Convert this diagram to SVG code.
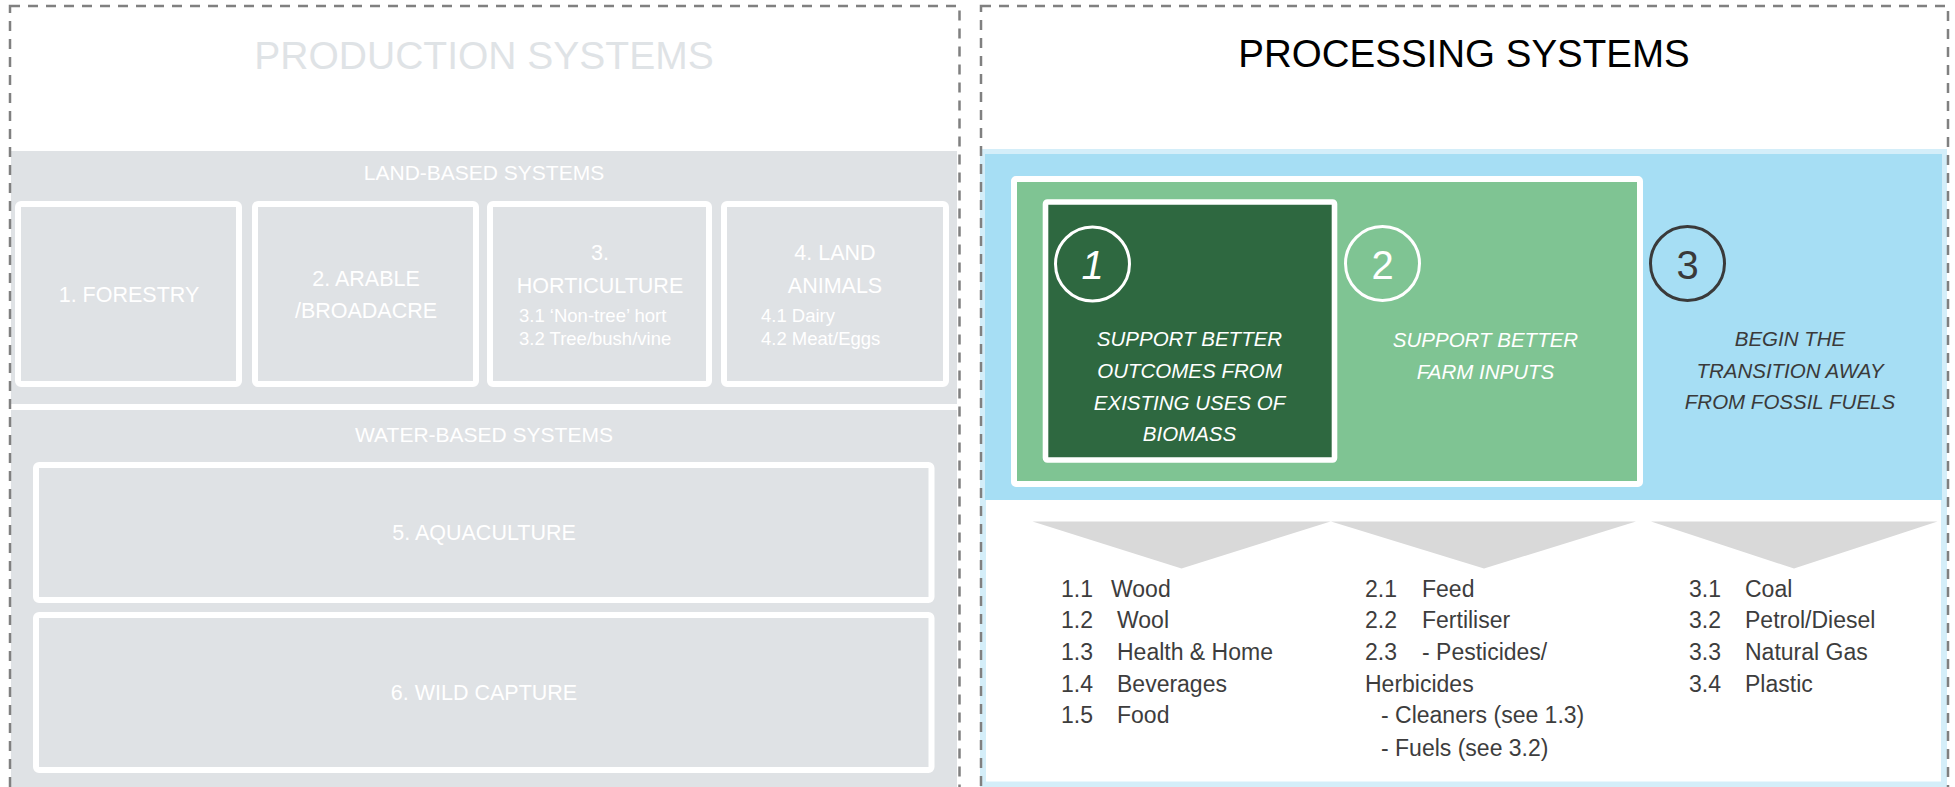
<svg xmlns="http://www.w3.org/2000/svg" width="1955" height="787" viewBox="0 0 1955 787">
<style>
text{font-family:"Liberation Sans",Arial,sans-serif}
.ptitle{font-size:39px;fill:#dfe3e6;text-anchor:middle}
.rtitle{font-size:38.5px;fill:#000;text-anchor:middle}
.sec{font-size:21px;fill:#fff;text-anchor:middle}
.lbl{font-size:21.5px;fill:#fff;text-anchor:middle}
.sub{font-size:18.5px;fill:#fff}
.pbox{fill:#dfe2e5;stroke:#fff;stroke-width:6}
.dash{fill:none;stroke:#808080;stroke-width:2.5;stroke-dasharray:10 8}
.goal{font-size:20.5px;font-style:italic;text-anchor:middle}
.num{font-size:40px;text-anchor:middle}
.li{font-size:23px;fill:#3d3d3d}
.tri{fill:#d9d9d9}
</style>
<rect width="1955" height="787" fill="#fff"/>

<g id="production-panel">
  <text class="ptitle" x="484" y="69">PRODUCTION SYSTEMS</text>
  <rect x="11" y="151" width="946" height="253" fill="#dfe2e5"/>
  <rect x="11" y="410" width="946" height="377" fill="#dfe2e5"/>
  <text class="sec" x="484" y="180">LAND-BASED SYSTEMS</text>
  <text class="sec" x="484" y="442">WATER-BASED SYSTEMS</text>
</g>

<g id="forestry">
  <rect class="pbox" x="18" y="204" width="221" height="180" rx="3"/>
  <text class="lbl" x="129" y="302">1. FORESTRY</text>
</g>
<g id="arable">
  <rect class="pbox" x="255" y="204" width="221" height="180" rx="3"/>
  <text class="lbl" x="366" y="286">2. ARABLE</text>
  <text class="lbl" x="366" y="318">/BROADACRE</text>
</g>
<g id="horticulture">
  <rect class="pbox" x="490" y="204" width="219" height="180" rx="3"/>
  <text class="lbl" x="600" y="260">3.</text>
  <text class="lbl" x="600" y="293">HORTICULTURE</text>
  <text class="sub" x="519" y="322">3.1 ‘Non-tree’ hort</text>
  <text class="sub" x="519" y="345">3.2 Tree/bush/vine</text>
</g>
<g id="land-animals">
  <rect class="pbox" x="724" y="204" width="222" height="180" rx="3"/>
  <text class="lbl" x="835" y="260">4. LAND</text>
  <text class="lbl" x="835" y="293">ANIMALS</text>
  <text class="sub" x="761" y="322">4.1 Dairy</text>
  <text class="sub" x="761" y="345">4.2 Meat/Eggs</text>
</g>
<g id="aquaculture">
  <rect class="pbox" x="36" y="465" width="895.5" height="135" rx="3"/>
  <text class="lbl" x="484" y="540">5. AQUACULTURE</text>
</g>
<g id="wild-capture">
  <rect class="pbox" x="36" y="615" width="895.5" height="155" rx="3"/>
  <text class="lbl" x="484" y="700">6. WILD CAPTURE</text>
</g>

<g id="processing-panel">
  <text class="rtitle" x="1464" y="67">PROCESSING SYSTEMS</text>
  <rect x="980" y="149" width="967" height="638" fill="#d4eef9"/>
  <rect x="985" y="154" width="957" height="346" fill="#a6def4"/>
  <rect x="986" y="500" width="955" height="281.5" fill="#fff"/>
</g>

<g id="goal-group">
  <rect x="1014" y="179" width="626" height="305" fill="#7fc493" stroke="#fff" stroke-width="6" rx="2"/>
</g>
<g id="goal-1">
  <rect x="1045.5" y="202" width="289" height="258" fill="#2e6840" stroke="#fff" stroke-width="5.6" rx="2"/>
  <circle cx="1092.5" cy="264" r="37" fill="none" stroke="#fff" stroke-width="3"/>
  <text class="num" x="1092.5" y="279" fill="#fff" font-style="italic" font-size="36">1</text>
  <text class="goal" fill="#fff" x="1189.5" y="346">SUPPORT BETTER</text>
  <text class="goal" fill="#fff" x="1189.5" y="378">OUTCOMES FROM</text>
  <text class="goal" fill="#fff" x="1189.5" y="410">EXISTING USES OF</text>
  <text class="goal" fill="#fff" x="1189.5" y="441">BIOMASS</text>
</g>
<g id="goal-2">
  <circle cx="1382.5" cy="263.5" r="37" fill="none" stroke="#fff" stroke-width="3"/>
  <text class="num" x="1382.5" y="279" fill="#fff">2</text>
  <text class="goal" fill="#fff" x="1485.5" y="347">SUPPORT BETTER</text>
  <text class="goal" fill="#fff" x="1485.5" y="379">FARM INPUTS</text>
</g>
<g id="goal-3">
  <circle cx="1687.5" cy="263.5" r="37" fill="none" stroke="#3a3a3a" stroke-width="3"/>
  <text class="num" x="1687.5" y="279" fill="#3a3a3a">3</text>
  <text class="goal" fill="#3a3a3a" x="1790" y="346" font-size="21">BEGIN THE</text>
  <text class="goal" fill="#3a3a3a" x="1790" y="378" font-size="21">TRANSITION AWAY</text>
  <text class="goal" fill="#3a3a3a" x="1790" y="409" font-size="21">FROM FOSSIL FUELS</text>
</g>

<g id="connectors">
  <polygon class="tri" points="1032.5,521.5 1330.5,521.5 1181.5,568.5"/>
  <polygon class="tri" points="1331,521.5 1636,521.5 1484,568.5"/>
  <polygon class="tri" points="1651,521.5 1937.5,521.5 1794,568.5"/>
</g>

<g id="list-1">
  <text class="li" x="1061" y="597">1.1</text><text class="li" x="1111" y="597">Wood</text>
  <text class="li" x="1061" y="628">1.2</text><text class="li" x="1117" y="628">Wool</text>
  <text class="li" x="1061" y="660">1.3</text><text class="li" x="1117" y="660">Health &amp; Home</text>
  <text class="li" x="1061" y="692">1.4</text><text class="li" x="1117" y="692">Beverages</text>
  <text class="li" x="1061" y="723">1.5</text><text class="li" x="1117" y="723">Food</text>
</g>
<g id="list-2">
  <text class="li" x="1365" y="597">2.1</text><text class="li" x="1422" y="597">Feed</text>
  <text class="li" x="1365" y="628">2.2</text><text class="li" x="1422" y="628">Fertiliser</text>
  <text class="li" x="1365" y="660">2.3</text><text class="li" x="1422" y="660">- Pesticides/</text>
  <text class="li" x="1365" y="692">Herbicides</text>
  <text class="li" x="1381" y="723">- Cleaners (see 1.3)</text>
  <text class="li" x="1381" y="756">- Fuels (see 3.2)</text>
</g>
<g id="list-3">
  <text class="li" x="1689" y="597">3.1</text><text class="li" x="1745" y="597">Coal</text>
  <text class="li" x="1689" y="628">3.2</text><text class="li" x="1745" y="628">Petrol/Diesel</text>
  <text class="li" x="1689" y="660">3.3</text><text class="li" x="1745" y="660">Natural Gas</text>
  <text class="li" x="1689" y="692">3.4</text><text class="li" x="1745" y="692">Plastic</text>
</g>

<g id="frames">
  <rect class="dash" x="10" y="6" width="949.5" height="800"/>
  <rect class="dash" x="981" y="6" width="967" height="800"/>
</g>
</svg>
